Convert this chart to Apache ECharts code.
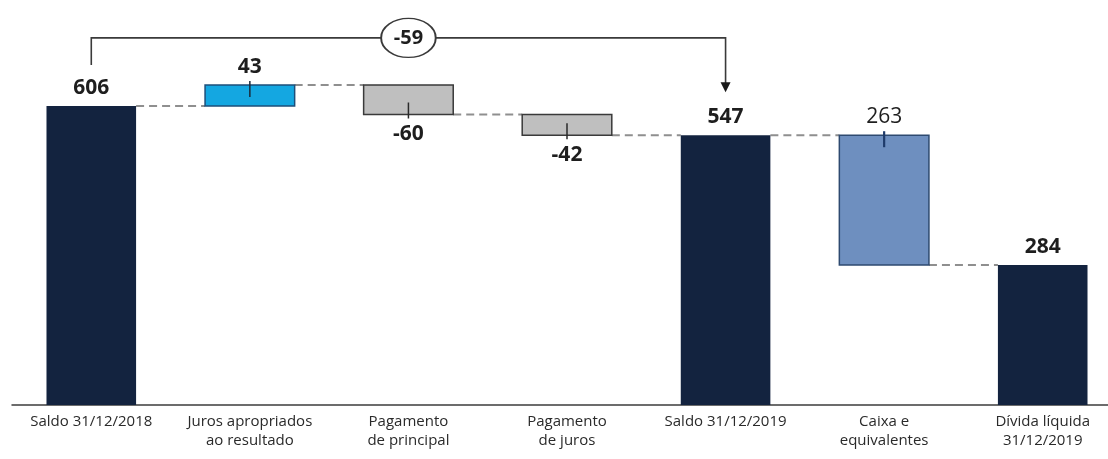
<!DOCTYPE html>
<html>
<head>
<meta charset="utf-8">
<script src="https://cdn.jsdelivr.net/npm/echarts@6/dist/echarts.min.js"></script>
<style>
  html, body { margin: 0; padding: 0; background: #ffffff; }
  #chart { width: 1108px; height: 459px; }
</style>
</head>
<body>
<div id="chart"></div>
<script>
// ---- data ----
const categories = [
  'Saldo 31/12/2018',
  'Juros apropriados\nao resultado',
  'Pagamento\nde principal',
  'Pagamento\nde juros',
  'Saldo 31/12/2019',
  'Caixa e\nequivalentes',
  'Dívida líquida\n31/12/2019'
];
const values = [606, 43, -60, -42, 547, -263, 284];
const kinds = ['total', 'increase', 'decrease', 'decrease', 'total', 'deduction', 'total'];
const labelTexts = ['606', '43', '-60', '-42', '547', '263', '284'];
const bracketFrom = 0;
const bracketTo = 4;
const bracketText = '-59';

// ---- build waterfall ranges ----
const ranges = [];
let running = 0;
values.forEach((v, i) => {
  if (kinds[i] === 'total') {
    ranges.push([i, 0, v]);
    running = v;
  } else {
    const next = running + v;
    ranges.push([i, Math.min(running, next), Math.max(running, next)]);
    running = next;
  }
});
const connectors = [];
running = 0;
values.forEach((v, i) => {
  running = kinds[i] === 'total' ? v : running + v;
  if (i < values.length - 1) connectors.push([i, running]);
});
const maxLevel = Math.max(...ranges.map(r => r[2]));

const FONT = '"Open Sans", "Noto Sans", sans-serif';
const BAR_FRAC = 0.565;
const styles = {
  total:     { fill: '#13233f', stroke: null, tick: null },
  increase:  { fill: '#14a7e1', stroke: '#1d4f7a', tick: '#1b2a3a' },
  decrease:  { fill: '#bfbfbf', stroke: '#3a3a3a', tick: '#2a2a2a' },
  deduction: { fill: '#6e8fbf', stroke: '#2e4a70', tick: '#1f3b6a' }
};

const chart = echarts.init(document.getElementById('chart'));
chart.setOption({
  animation: false,
  backgroundColor: '#ffffff',
  grid: { left: 12, top: 5, width: 1110, height: 400, containLabel: false, outerBoundsMode: 'none' },
  xAxis: {
    type: 'category',
    data: categories,
    boundaryGap: true,
    axisTick: { show: false },
    axisLine: { lineStyle: { color: '#3c3c3c', width: 1.5 } },
    axisLabel: {
      interval: 0,
      color: '#2a2a2a',
      fontFamily: FONT,
      fontSize: 15,
      lineHeight: 19,
      margin: 7
    }
  },
  yAxis: {
    type: 'value',
    min: 0,
    max: 811,
    show: false,
    splitLine: { show: false }
  },
  series: [
    {
      type: 'custom',
      name: 'connectors',
      data: connectors,
      z: 1,
      renderItem: function (params, api) {
        const i = api.value(0), lvl = api.value(1);
        const w = api.size([1, 0])[0] * BAR_FRAC;
        const a = api.coord([i, lvl]);
        const b = api.coord([i + 1, lvl]);
        return {
          type: 'line',
          shape: { x1: a[0] + w / 2, y1: a[1], x2: b[0] - w / 2, y2: b[1] },
          style: { stroke: '#8f8f8f', lineWidth: 2, lineDash: [8, 5] }
        };
      }
    },
    {
      type: 'custom',
      name: 'bars',
      data: ranges,
      z: 2,
      renderItem: function (params, api) {
        const i = api.value(0), lo = api.value(1), hi = api.value(2);
        const kind = kinds[i];
        const st = styles[kind];
        const w = api.size([1, 0])[0] * BAR_FRAC;
        const pTop = api.coord([i, hi]);
        const pBot = api.coord([i, lo]);
        const cx = pTop[0];
        const children = [{
          type: 'rect',
          shape: { x: cx - w / 2, y: pTop[1], width: w, height: pBot[1] - pTop[1] },
          style: st.stroke ? { fill: st.fill, stroke: st.stroke, lineWidth: 1.5 } : { fill: st.fill }
        }];
        const below = kind === 'decrease';
        if (st.tick) {
          const edge = below ? pBot[1] : pTop[1];
          const y1 = below ? edge + 4 : edge - 4;
          const y2 = below ? edge - 12 : edge + 12;
          children.push({
            type: 'line',
            shape: { x1: cx, y1: y1, x2: cx, y2: y2 },
            style: { stroke: st.tick, lineWidth: kind === 'deduction' ? 2.2 : 1.5 }
          });
        }
        children.push({
          type: 'text',
          style: {
            text: labelTexts[i],
            x: cx,
            y: below ? pBot[1] + 20 : pTop[1] - 18,
            align: 'center',
            verticalAlign: 'middle',
            fill: '#1e1e1e',
            fontFamily: FONT,
            fontSize: 21,
            fontWeight: kind === 'deduction' ? 'normal' : 'bold'
          }
        });
        return { type: 'group', children: children };
      }
    },
    {
      type: 'custom',
      name: 'bracket',
      data: [[bracketFrom, bracketTo, values[bracketFrom], values[bracketTo]]],
      z: 3,
      renderItem: function (params, api) {
        const iA = api.value(0), iB = api.value(1);
        const vA = api.value(2), vB = api.value(3);
        const a = api.coord([iA, vA]);
        const b = api.coord([iB, vB]);
        const yTop = api.coord([iA, maxLevel])[1] - 47;
        const yStart = a[1] - 41;
        const yTip = b[1] - 43;
        const mid = (a[0] + b[0]) / 2;
        const col = '#3a3a3a';
        return {
          type: 'group',
          children: [
            {
              type: 'polyline',
              shape: { points: [[a[0], yStart], [a[0], yTop], [b[0], yTop], [b[0], yTip - 9]] },
              style: { stroke: col, lineWidth: 1.6, fill: null }
            },
            {
              type: 'polygon',
              shape: { points: [[b[0] - 5, yTip - 10], [b[0] + 5, yTip - 10], [b[0], yTip]] },
              style: { fill: '#1a1a1a' }
            },
            {
              type: 'circle',
              x: mid, y: yTop,
              scaleX: 1.4, scaleY: 1,
              shape: { cx: 0, cy: 0, r: 19.5 },
              style: { fill: '#ffffff', stroke: col, lineWidth: 1.4, strokeNoScale: true }
            },
            {
              type: 'text',
              style: {
                text: bracketText,
                x: mid, y: yTop,
                align: 'center', verticalAlign: 'middle',
                fill: '#1e1e1e',
                fontFamily: FONT, fontSize: 20, fontWeight: 'bold'
              }
            }
          ]
        };
      }
    }
  ]
});
</script>
</body>
</html>
